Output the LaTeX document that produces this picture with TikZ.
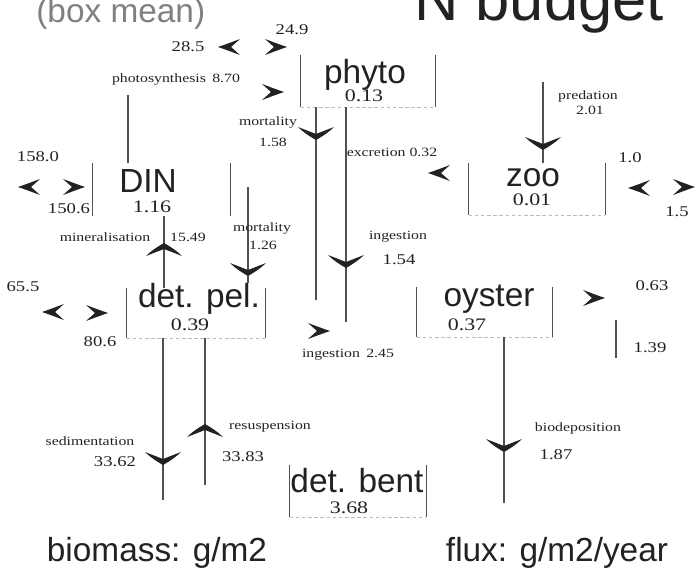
\documentclass[tikz,border=0pt]{standalone}
\usepackage{fontspec}
\setmainfont{Liberation Sans}
\newfontfamily\scanserif[FakeStretch=1.25]{Liberation Serif}
\usetikzlibrary{positioning}
\definecolor{inkdark}{HTML}{222222}
\definecolor{inkline}{HTML}{505050}
\definecolor{inkfaint}{HTML}{BBBBBB}
\definecolor{inktitle}{HTML}{808080}

\tikzset{
  compname/.style={font=\fontsize{19}{19}\selectfont, text=inkdark, inner sep=0pt},
  compval/.style={font=\scanserif\fontsize{10}{10}\selectfont, text=inkdark, inner sep=0pt},
  fluxlbl/.style={font=\scanserif\fontsize{7.2}{8}\selectfont, text=inkdark, inner sep=0pt},
  fluxnum/.style={font=\scanserif\fontsize{8.5}{9}\selectfont, text=inkdark, inner sep=0pt},
  cbox/.style 2 args={minimum width={#1*0.02cm}, minimum height={#2*0.02cm}, inner sep=0pt},
  bar/.style={inkline, line width=0.9pt},
  flow/.style={inkline, line width=0.6pt},
  floorline/.style={inkfaint, line width=0.6pt, dash pattern=on 2pt off 1.5pt},
  chev/.pic={
    \fill[inkdark] (0,0) .. controls (-6,-2) and (-14,-5) .. (-22,-8)
      .. controls (-17,-4) .. (-13,0) .. controls (-17,4) .. (-22,8)
      .. controls (-14,5) and (-6,2) .. (0,0) -- cycle;},
  barb/.pic={
    \fill[inkdark] (0,0) .. controls (-4,-7) and (-8,-13) .. (-13,-18)
      .. controls (-9,-9) .. (-6,0) .. controls (-9,9) .. (-13,18)
      .. controls (-8,13) and (-4,7) .. (0,0) -- cycle;}
}
\newcommand{\compbars}[1]{%
  \draw[bar] (#1.north west) -- (#1.south west);
  \draw[bar] (#1.north east) -- (#1.south east);}
\newcommand{\compfloor}[1]{\draw[floorline] (#1.south west) -- (#1.south east);}

\begin{document}
\begin{tikzpicture}[x=0.02cm, y=-0.02cm]
    \useasboundingbox (0,0) rectangle (697,578);
    \clip (0,0) rectangle (697,578);

    % Titles
    \node[font=\fontsize{19}{19}\selectfont, text=inktitle, anchor=base west, inner sep=0pt] (subtitle) at (36,23) {(box mean)};
    \node[font=\fontsize{35}{35}\selectfont, text=inkdark, anchor=base west, inner sep=0pt] (title) at (414,20) {N budget};

    % Compartments
    \node[cbox={134}{52}] (phyto) at (368,81) {};
    \node[cbox={137}{53}] (din) at (161.5,189.5) {};
    \node[cbox={136}{52}] (zoo) at (537,189) {};
    \node[cbox={138}{50}] (pel) at (196,313) {};
    \node[cbox={135}{50}] (oyster) at (484.5,312) {};
    \node[cbox={136}{52}] (bent) at (358,491) {};
    \foreach \c in {phyto,din,zoo,pel,oyster,bent} {\compbars{\c}}
    \foreach \c in {phyto,zoo,pel,oyster,bent} {\compfloor{\c}}

    \node[compname] (phytoName) at (365,75) {phyto};
    \node[compval] (phytoVal) at (364,96) {0.13};
    \node[compname] (dinName) at (148,181) {DIN};
    \node[compval] (dinVal) at (152,207) {1.16};
    \node[compname] (zooName) at (533,178) {zoo};
    \node[compval] (zooVal) at (532,200) {0.01};
    \node[compname] (pelName) at (199,299) {det. pel.};
    \node[compval] (pelVal) at (190,325) {0.39};
    \node[compname] (oysterName) at (489,299) {oyster};
    \node[compval] (oysterVal) at (467,325) {0.37};
    \node[compname] (bentName) at (357,481) {det. bent};
    \node[compval] (bentVal) at (349,508) {3.68};

    % Fluxes
    \coordinate (photoCol) at (128,95);
    \draw[flow] (photoCol) -- (photoCol |- din.north);
    \coordinate (minCol) at (164,0);
    \draw[flow] (minCol |- din.south) -- (minCol |- pel.north);
    \pic[rotate=90] at (164,243) {barb};
    \coordinate (mortDinTop) at (248,187);
    \draw[flow, shorten >=0.1cm] (mortDinTop) -- (mortDinTop |- pel.north);
    \pic[rotate=-90] at (248,276) {barb};
    \coordinate (mortPhytoEnd) at (316,300);
    \draw[flow] (mortPhytoEnd |- phyto.south) -- (mortPhytoEnd);
    \pic[rotate=-90] at (316,140) {barb};
    \coordinate (ingZooEnd) at (346,322);
    \draw[flow] (ingZooEnd |- phyto.south) -- (ingZooEnd);
    \pic[rotate=-90] at (346,268) {barb};
    \coordinate (predTop) at (543,82);
    \draw[flow] (predTop) -- (predTop |- zoo.north);
    \pic[rotate=-90] at (543,150) {barb};
    \coordinate (sedEnd) at (163,500);
    \draw[flow] (sedEnd |- pel.south) -- (sedEnd);
    \pic[rotate=-90] at (163,465) {barb};
    \coordinate (resEnd) at (205,485);
    \draw[flow] (resEnd |- pel.south) -- (resEnd);
    \pic[rotate=90] at (205,424) {barb};
    \coordinate (biodepEnd) at (504,503);
    \draw[flow] (biodepEnd |- oyster.south) -- (biodepEnd);
    \pic[rotate=-90] at (504,452) {barb};
    \coordinate (harvTop) at (616,320);
    \coordinate (harvEnd) at (616,358);
    \draw[bar] (harvTop) -- (harvEnd);

    % Open boundaries
    \pic[rotate=180] at (218,47) {chev};
    \pic at (287,47) {chev};
    \pic at (284,92) {chev};
    \pic[rotate=180] at (428,173) {chev};
    \pic[rotate=180] at (628,188) {chev};
    \pic at (695,187) {chev};
    \pic[rotate=180] at (18,187) {chev};
    \pic at (85,187) {chev};
    \pic[rotate=180] at (42,312) {chev};
    \pic at (108,313) {chev};
    \pic at (330,331) {chev};
    \pic at (605,298) {chev};

    % Flux labels
    \node[fluxnum] (inPhyto) at (188,47) {28.5};
    \node[fluxnum] (outPhyto) at (292,30) {24.9};
    \node[fluxlbl] (photoLbl) at (176,79) {photosynthesis\enspace 8.70};
    \node[fluxlbl] (mortPhytoLbl) at (268,122) {mortality};
    \node[fluxlbl] (mortPhytoVal) at (273,142) {1.58};
    \node[fluxlbl] (predLbl) at (588,96) {predation};
    \node[fluxlbl] (predVal) at (590,110) {2.01};
    \node[fluxlbl] (excrLbl) at (392,152) {excretion 0.32};
    \node[fluxnum] (inZoo) at (630,158) {1.0};
    \node[fluxnum] (outZoo) at (677,212) {1.5};
    \node[fluxnum] (inDin) at (38,157) {158.0};
    \node[fluxnum] (outDin) at (69,209) {150.6};
    \node[fluxlbl] (minLbl) at (105,237) {mineralisation};
    \node[fluxlbl] (minVal) at (188,237) {15.49};
    \node[fluxlbl] (mortZooLbl) at (262,228) {mortality};
    \node[fluxlbl] (mortZooVal) at (263,245) {1.26};
    \node[fluxlbl] (ingZooLbl) at (398,237) {ingestion};
    \node[fluxnum] (ingZooVal) at (399,260) {1.54};
    \node[fluxnum] (inPel) at (23,287) {65.5};
    \node[fluxnum] (outPel) at (100,342) {80.6};
    \node[fluxlbl] (ingOysLbl) at (348,355) {ingestion\enspace 2.45};
    \node[fluxnum] (outOys) at (652,286) {0.63};
    \node[fluxnum] (harvOys) at (650,348) {1.39};
    \node[fluxlbl] (sedLbl) at (90,441) {sedimentation};
    \node[fluxnum] (sedVal) at (115,462) {33.62};
    \node[fluxlbl] (resLbl) at (270,427) {resuspension};
    \node[fluxnum] (resVal) at (243,457) {33.83};
    \node[fluxlbl] (biodepLbl) at (578,428) {biodeposition};
    \node[fluxnum] (biodepVal) at (556,455) {1.87};

    % Units
    \node[compname] (unitBio) at (157,553) {biomass: g/m2};
    \node[compname] (unitFlux) at (557,553) {flux: g/m2/year};
\end{tikzpicture}
\end{document}
